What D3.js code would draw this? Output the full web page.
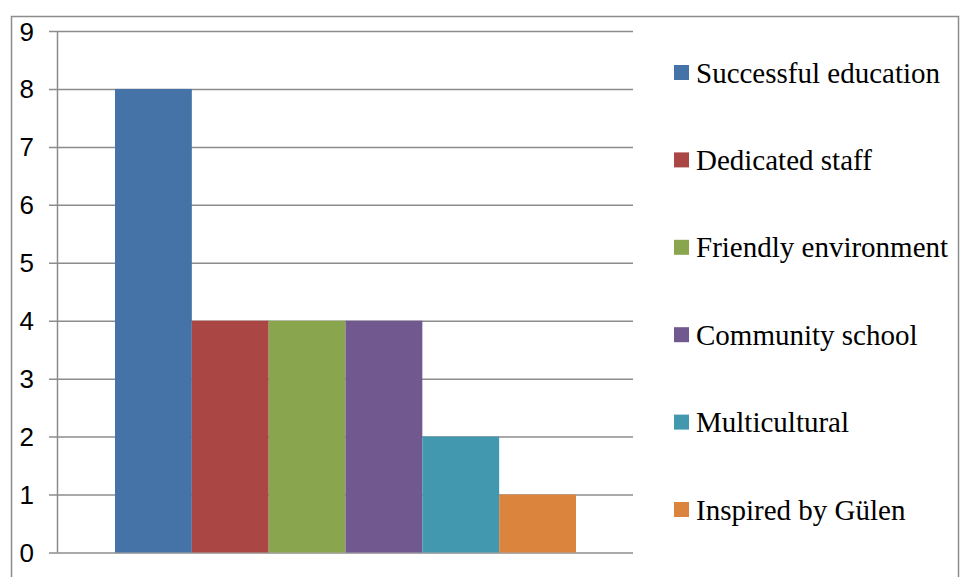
<!DOCTYPE html>
<html>
<head>
<meta charset="utf-8">
<script src="https://cdn.jsdelivr.net/npm/d3@7/dist/d3.min.js"></script>
<style>
  html, body { margin: 0; padding: 0; background: #fff; }
  svg { display: block; }
</style>
</head>
<body>
<svg id="chart" width="961" height="577"></svg>
<script>
// Reasons given, one bar per reason in a single cluster
const categories = ["Successful education", "Dedicated staff", "Friendly environment",
                    "Community school", "Multicultural", "Inspired by Gülen"];
const values = [8, 4, 4, 4, 2, 1];
const colors = ["#4572A7", "#AA4643", "#89A54E", "#71588F", "#4198AF", "#DB843D"];
const yTicks = [0, 1, 2, 3, 4, 5, 6, 7, 8, 9];

const svg = d3.select("#chart");
const plot = { left: 57.5, right: 633, top: 31, bottom: 552.5 };

// Outer chart frame
svg.append("rect")
  .attr("x", 11.5).attr("y", 16.5)
  .attr("width", 947).attr("height", 600)
  .attr("fill", "#fff").attr("stroke", "#8c8c8c").attr("stroke-width", 1.5);

const y = d3.scaleLinear().domain([0, 9]).range([plot.bottom, plot.top]);

// Series bars inside the single category group
const x1 = d3.scaleBand().domain(categories).range([115, 576]);

// Horizontal gridlines with ticks reaching left of the axis
const yAxis = d3.axisLeft(y).tickValues(yTicks).tickSize(-(plot.right - 49)).tickFormat(d3.format("d")).tickPadding(0);
const ga = svg.append("g").attr("transform", `translate(${plot.right},0)`).call(yAxis);
ga.select(".domain").remove();
ga.selectAll(".tick line")
  .attr("x1", 0).attr("x2", -(plot.right - 49))
  .attr("stroke", "#8c8c8c").attr("stroke-width", 1.5);
ga.selectAll(".tick text").remove();

svg.append("g").selectAll("text")
  .data(yTicks).join("text")
  .attr("x", 34).attr("y", d => y(d) + 9.5)
  .attr("text-anchor", "end")
  .attr("font-family", "Liberation Sans, Arial, sans-serif")
  .attr("font-size", 26).attr("fill", "#000")
  .text(d => d);

// Bars
svg.append("g").selectAll("rect")
  .data(categories).join("rect")
  .attr("x", d => x1(d))
  .attr("width", x1.bandwidth())
  .attr("y", (d, i) => y(values[i]))
  .attr("height", (d, i) => y(0) - y(values[i]))
  .attr("fill", (d, i) => colors[i]);

// Vertical axis line
svg.append("line")
  .attr("x1", plot.left).attr("x2", plot.left)
  .attr("y1", plot.top).attr("y2", plot.bottom)
  .attr("stroke", "#8c8c8c").attr("stroke-width", 1.5);

// Legend
const legY = d3.scalePoint().domain(categories).range([73, 510]);
const leg = svg.append("g").selectAll("g")
  .data(categories).join("g")
  .attr("transform", d => `translate(674,${legY(d)})`);
leg.append("rect")
  .attr("x", 0).attr("y", -8).attr("width", 15).attr("height", 15)
  .attr("fill", (d, i) => colors[i]);
leg.append("text")
  .attr("x", 22).attr("y", 9.5)
  .attr("font-family", "Liberation Serif, Times New Roman, serif")
  .attr("font-size", 29).attr("fill", "#000")
  .text(d => d);
</script>
</body>
</html>
